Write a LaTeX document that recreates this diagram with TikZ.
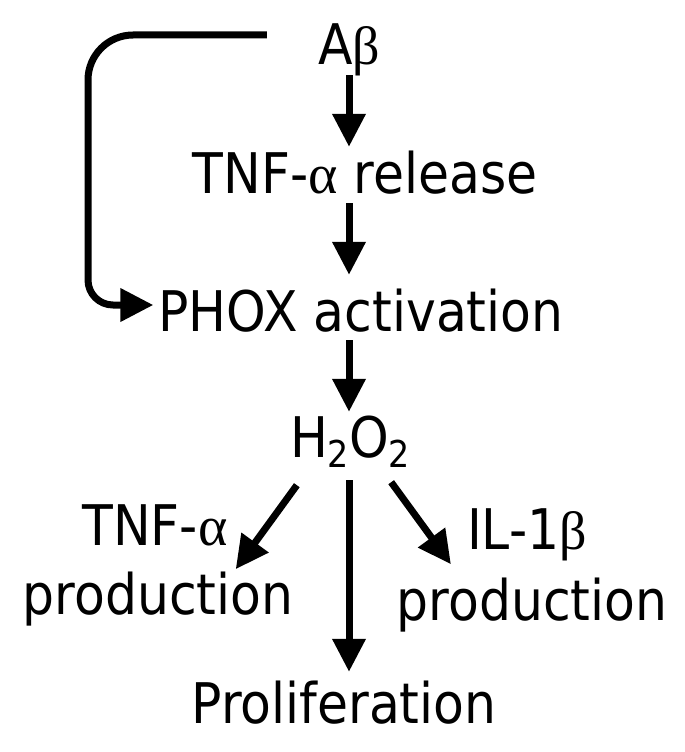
\documentclass[tikz,border=0pt]{standalone}
\usepackage{fontspec}
\setmainfont{DejaVu Sans}[FakeStretch=0.9]
\newfontfamily\grkfont{Liberation Serif}
\usetikzlibrary{arrows.meta}

\newcommand{\galpha}{{\grkfont\fontsize{56}{56}\selectfont α}}
\newcommand{\gbeta}{{\grkfont\fontsize{54}{54}\selectfont β}}
\newcommand{\subtwo}{\raisebox{-10pt}{\fontsize{37}{37}\selectfont 2}}

\tikzset{
  lbl/.style={inner sep=0pt, text height=42pt, text depth=12pt, anchor=base,
    font=\fontsize{56}{60}\selectfont},
  arr/.style={line width=7pt, -{Triangle[length=33pt,width=32pt]}}
}

\begin{document}
\begin{tikzpicture}[x=1pt, y=-1pt]
    \useasboundingbox (0,0) rectangle (685,752);

    % Pathway
    \node[lbl] (ab) at (349,65) {A\gbeta};
    \node[lbl] (tnf) at (365,193) {TNF-\galpha{} release};
    \node[lbl] (phox) at (361,331) {PHOX activation};
    \node[lbl] (h2o2) at (350,457) {H\subtwo O\subtwo};

    % Products
    \node[lbl] (tnfp) at (155,545) {TNF-\galpha};
    \node[lbl] (prodl) at (158,614) {production};
    \node[lbl] (ilp) at (527,549) {IL-1\gbeta};
    \node[lbl] (prodr) at (532,620) {production};
    \node[lbl] (prolif) at (344,723) {Proliferation};

    % Main arrows
    \draw[arr, shorten <=-2pt, shorten >=4pt] (ab.south) -- (ab.south |- tnf.north);
    \draw[arr, shorten <=-2pt, shorten >=14pt] (ab.south |- tnf.south) -- (ab.south |- phox.north);
    \draw[arr, shorten <=-3pt, shorten >=3pt] (ab.south |- phox.south) -- (ab.south |- h2o2.north);
    \draw[arr, shorten <=11pt, shorten >=9pt] (ab.south |- h2o2.south) -- (ab.south |- prolif.north);

    % Side arrows
    \draw[arr] ([xshift=7pt,yshift=-16pt]h2o2.south west) -- ([xshift=8pt,yshift=-12pt]tnfp.south east);
    \draw[arr] ([xshift=-19pt,yshift=-13pt]h2o2.south east) -- ([xshift=-16pt,yshift=-3pt]ilp.south west);

    % Direct route
    \coordinate (fb) at (88,170);
    \draw[arr] ([xshift=-51pt,yshift=15pt]ab.west) [rounded corners=45pt] -| (fb)
        [rounded corners=25pt] |- ([xshift=-5pt,yshift=11pt]phox.west);
\end{tikzpicture}
\end{document}
